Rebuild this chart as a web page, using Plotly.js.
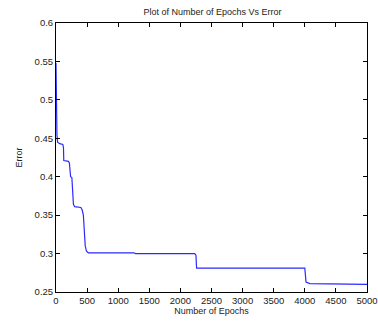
<!DOCTYPE html>
<html>
<head>
<meta charset="utf-8">
<script src="https://cdn.plot.ly/plotly-3.0.1.min.js"></script>
<style>html,body{margin:0;padding:0;background:#fff;}#chart{width:378px;height:325px;}</style>
</head>
<body>
<div id="chart"></div>
<script>
var epochs = [0, 3, 8, 15, 25, 60, 110, 120, 125, 200, 215, 235, 255, 265, 280, 300, 400, 420, 440, 455, 470, 490, 520, 1250, 1280, 2230, 2250, 2260, 4000, 4020, 4080, 5000];
var errors = [0.548, 0.49, 0.46, 0.455, 0.445, 0.443, 0.442, 0.438, 0.421, 0.42, 0.418, 0.40, 0.399, 0.375, 0.364, 0.361, 0.36, 0.357, 0.35, 0.33, 0.31, 0.303, 0.301, 0.301, 0.300, 0.300, 0.298, 0.281, 0.281, 0.263, 0.261, 0.260];
var xTicks = [0, 500, 1000, 1500, 2000, 2500, 3000, 3500, 4000, 4500, 5000];
var yTicks = [0.25, 0.3, 0.35, 0.4, 0.45, 0.5, 0.55, 0.6];
var chartTitle = "Plot of Number of Epochs Vs Error";
var xLabel = "Number of Epochs";
var yLabel = "Error";

var fam = 'Liberation Sans, Arial, sans-serif';
var trace = {
  x: epochs, y: errors, type: 'scatter', mode: 'lines',
  line: {color: '#2b2bff', width: 1.2}, hoverinfo: 'none', cliponaxis: false
};
var axisCommon = {
  showline: true, linecolor: '#000', linewidth: 1, mirror: 'ticks',
  ticks: 'inside', ticklen: 4, tickcolor: '#000', tickwidth: 1,
  showgrid: false, zeroline: false, tickmode: 'array', ticklabeloverflow: 'allow',
  tickfont: {family: fam, size: 9.5, color: '#222'}
};
var layout = {
  width: 378, height: 325,
  margin: {l: 56, r: 11, t: 23, b: 33},
  paper_bgcolor: '#fff', plot_bgcolor: '#fff',
  showlegend: false,
  title: {text: chartTitle, font: {family: fam, size: 9, color: '#222'}, x: 0.562, xanchor: 'center', y: 0.965, yanchor: 'middle'},
  xaxis: Object.assign({}, axisCommon, {range: [0, 5000], tickvals: xTicks, ticktext: xTicks.map(String),
    title: {text: xLabel, font: {family: fam, size: 9, color: '#222'}, standoff: 2}}),
  yaxis: Object.assign({}, axisCommon, {range: [0.25, 0.6], tickvals: yTicks, ticktext: yTicks.map(String),
    title: {text: yLabel, font: {family: fam, size: 9, color: '#222'}, standoff: 10}})
};
Plotly.newPlot('chart', [trace], layout, {displayModeBar: false, staticPlot: true});
</script>
</body>
</html>
